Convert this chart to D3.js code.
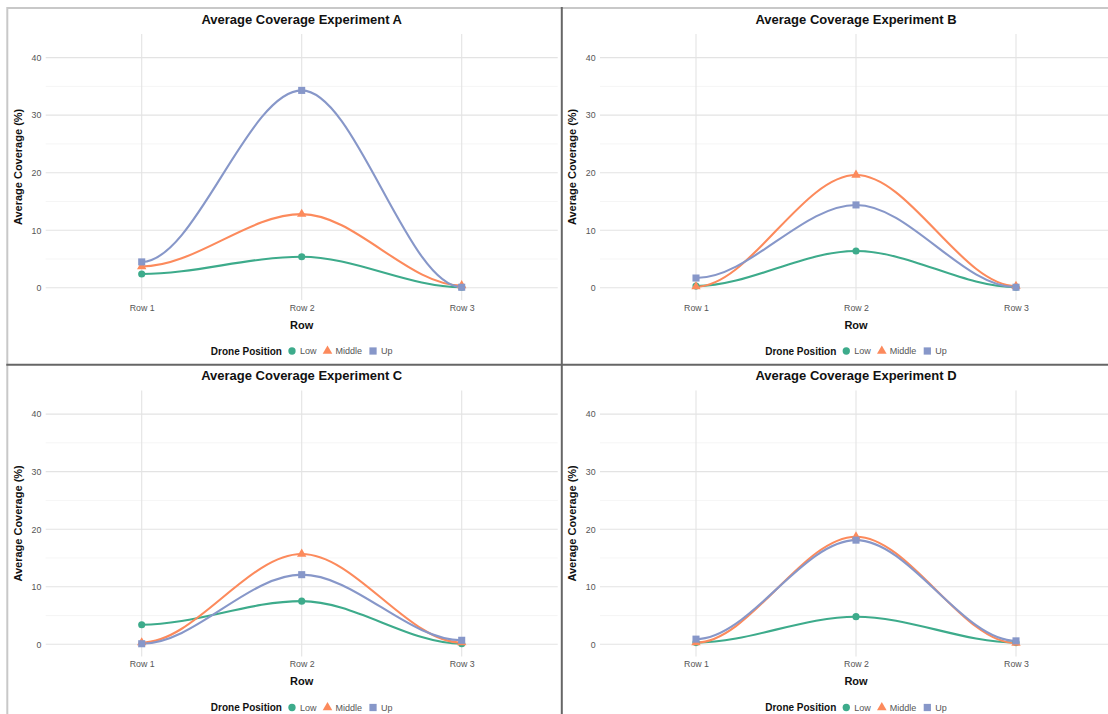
<!DOCTYPE html>
<html>
<head>
<meta charset="utf-8">
<script src="https://cdn.jsdelivr.net/npm/d3@7"></script>
<style>
  html, body { margin: 0; padding: 0; background: #ffffff; }
  svg { display: block; font-family: "Liberation Sans", Arial, Helvetica, sans-serif; }
</style>
</head>
<body>
<svg id="chart" width="1108" height="714"></svg>
<script>
// Row categories and drone positions
const rowLabels = ["Row 1", "Row 2", "Row 3"];
const dronePositions = ["Low", "Middle", "Up"];
const yTickValues = [0, 10, 20, 30, 40];
const yMinorValues = [5, 15, 25, 35];
const panelTitles = [
  "Average Coverage Experiment A",
  "Average Coverage Experiment B",
  "Average Coverage Experiment C",
  "Average Coverage Experiment D"
];

// Average coverage (%) per row, one array per drone position and experiment
const lowA = [2.4, 5.4, 0.1];
const middleA = [3.7, 12.8, 0.4];
const upA = [4.5, 34.3, 0.1];

const lowB = [0.3, 6.4, 0.1];
const middleB = [0.2, 19.6, 0.3];
const upB = [1.7, 14.4, 0.1];

const lowC = [3.4, 7.5, 0.1];
const middleC = [0.3, 15.7, 0.3];
const upC = [0.1, 12.1, 0.7];

const lowD = [0.3, 4.8, 0.3];
const middleD = [0.3, 18.7, 0.2];
const upD = [0.9, 18.1, 0.6];

const panelSeries = [
  [lowA, middleA, upA],
  [lowB, middleB, upB],
  [lowC, middleC, upC],
  [lowD, middleD, upD]
];

// Styling
const colors = { Low: "#3dab8b", Middle: "#fc8a5c", Up: "#8797c9" };
const symbols = { Low: d3.symbolCircle, Middle: d3.symbolTriangle, Up: d3.symbolSquare };
const symbolSizes = { Low: 40, Middle: 38, Up: 50 };

// Panel placement (left/top offsets of each sub-plot)
const panelOffsets = [
  { dx: 0, dy: 0 },
  { dx: 554.3, dy: 0 },
  { dx: 0, dy: 356.5 },
  { dx: 554.3, dy: 356.5 }
];

const svg = d3.select("#chart");

// Smooth curve with flat tangents at every data point
function curveFlatSpline(context) {
  let x0, y0, first;
  return {
    areaStart() {}, areaEnd() {},
    lineStart() { first = true; },
    lineEnd() {},
    point(x, y) {
      x = +x; y = +y;
      if (first) { context.moveTo(x, y); first = false; }
      else {
        const k = (x - x0) / 3;
        context.bezierCurveTo(x0 + k, y0, x - k, y, x, y);
      }
      x0 = x; y0 = y;
    }
  };
}

function drawPanel(i) {
  const off = panelOffsets[i];
  const g = svg.append("g").attr("transform", `translate(${off.dx},${off.dy})`);

  const left = 45.7, right = 557.7, top = 34, bottom = 299.9;
  const cx = (left + right) / 2;

  const x = d3.scalePoint().domain(rowLabels).range([left, right]).padding(0.6);
  const y = d3.scaleLinear().domain([-2.1, 44.1]).range([bottom, top]);

  // grid
  g.append("g").selectAll("line").data(yMinorValues).join("line")
    .attr("x1", left).attr("x2", right)
    .attr("y1", d => y(d)).attr("y2", d => y(d))
    .attr("stroke", "#f2f2f2").attr("stroke-width", 0.8);
  g.append("g").selectAll("line").data(yTickValues).join("line")
    .attr("x1", left).attr("x2", right)
    .attr("y1", d => y(d)).attr("y2", d => y(d))
    .attr("stroke", "#e3e3e3").attr("stroke-width", 1.1);
  g.append("g").selectAll("line").data(rowLabels).join("line")
    .attr("x1", d => x(d)).attr("x2", d => x(d))
    .attr("y1", top).attr("y2", bottom)
    .attr("stroke", "#e3e3e3").attr("stroke-width", 1.1);

  // y axis tick labels
  const yAxis = d3.axisLeft(y).tickValues(yTickValues).tickSize(0).tickPadding(4.4);
  const ya = g.append("g").attr("transform", `translate(${left},0)`).call(yAxis);
  ya.select(".domain").remove();
  ya.selectAll("text").attr("fill", "#555").attr("font-size", 8.8)
    .attr("font-family", "'Liberation Sans', Arial, sans-serif");

  // x axis tick labels
  const xAxis = d3.axisBottom(x).tickSize(0).tickPadding(0);
  const xa = g.append("g").attr("transform", `translate(0,${bottom})`).call(xAxis);
  xa.select(".domain").remove();
  xa.selectAll("text").attr("fill", "#555").attr("font-size", 8.8)
    .attr("font-family", "'Liberation Sans', Arial, sans-serif")
    .attr("dy", null).attr("y", 10.9);

  // lines
  const line = d3.line()
    .x((d, j) => x(rowLabels[j]))
    .y(d => y(d))
    .curve(curveFlatSpline);

  const series = panelSeries[i];
  dronePositions.forEach((p, k) => {
    g.append("path").datum(series[k])
      .attr("d", line)
      .attr("fill", "none")
      .attr("stroke", colors[p])
      .attr("stroke-width", 2.1)
      .attr("stroke-linejoin", "round");
  });
  dronePositions.forEach((p, k) => {
    g.append("g").selectAll("path").data(series[k]).join("path")
      .attr("transform", (d, j) => `translate(${x(rowLabels[j])},${y(d)})`)
      .attr("d", d3.symbol().type(symbols[p]).size(symbolSizes[p]))
      .attr("fill", colors[p]);
  });

  // titles
  g.append("text").attr("x", cx).attr("y", 23.6)
    .attr("text-anchor", "middle").attr("font-size", 13).attr("font-weight", "bold")
    .attr("fill", "#111").text(panelTitles[i]);
  g.append("text").attr("x", cx).attr("y", 328.9)
    .attr("text-anchor", "middle").attr("font-size", 11).attr("font-weight", "bold")
    .attr("fill", "#111").text("Row");
  g.append("text")
    .attr("transform", `translate(${left - 27.8},${(top + bottom) / 2}) rotate(-90)`)
    .attr("text-anchor", "middle").attr("dy", "0.35em")
    .attr("font-size", 11).attr("font-weight", "bold")
    .attr("fill", "#111").text("Average Coverage (%)");

  // legend
  const lg = g.append("g");
  const ly = 351;
  const title = lg.append("text").attr("x", 0).attr("y", ly).attr("dy", "0.35em")
    .attr("font-size", 10).attr("font-weight", "bold").attr("fill", "#111")
    .text("Drone Position");
  let pos = title.node().getComputedTextLength() + 5;
  dronePositions.forEach((p, k) => {
    lg.append("path")
      .attr("transform", `translate(${pos + 5},${ly})`)
      .attr("d", d3.symbol().type(symbols[p]).size(symbolSizes[p] * 1.05))
      .attr("fill", colors[p]);
    pos += 13;
    const t = lg.append("text").attr("x", pos).attr("y", ly).attr("dy", "0.35em")
      .attr("font-size", 9).attr("fill", "#555").text(p);
    pos += t.node().getComputedTextLength();
    if (k < dronePositions.length - 1) pos += 6;
  });
  lg.attr("transform", `translate(${cx - pos / 2},0)`);
}

for (let i = 0; i < 4; i++) drawPanel(i);

// frame and dividers
svg.append("line").attr("x1", 7).attr("x2", 1108).attr("y1", 8).attr("y2", 8)
  .attr("stroke", "#c8c8c8").attr("stroke-width", 2);
svg.append("line").attr("x1", 7.3).attr("x2", 7.3).attr("y1", 7).attr("y2", 714)
  .attr("stroke", "#c8c8c8").attr("stroke-width", 2);
svg.append("line").attr("x1", 561.8).attr("x2", 561.8).attr("y1", 7).attr("y2", 714)
  .attr("stroke", "#666").attr("stroke-width", 2);
svg.append("line").attr("x1", 6.3).attr("x2", 1108).attr("y1", 364.8).attr("y2", 364.8)
  .attr("stroke", "#666").attr("stroke-width", 2);
</script>
</body>
</html>
